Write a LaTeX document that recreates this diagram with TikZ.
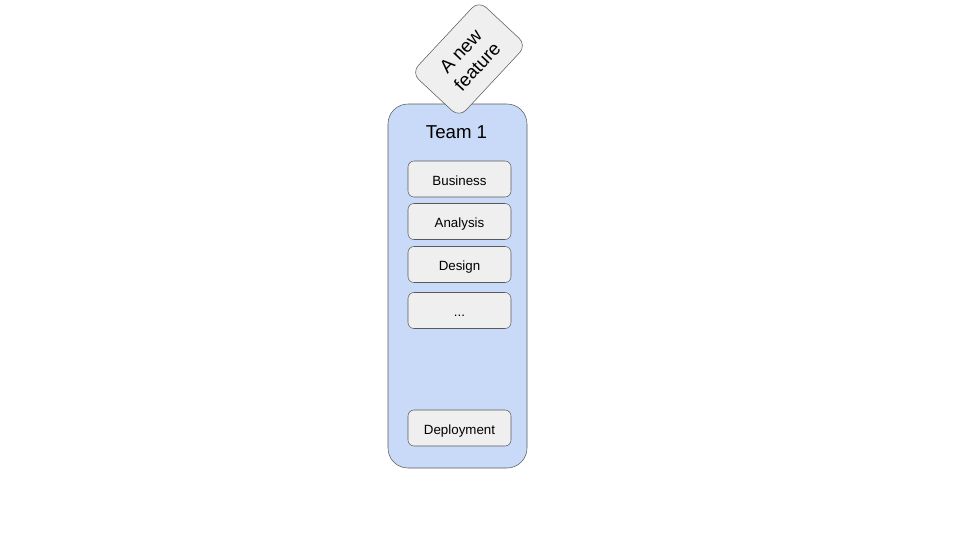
\documentclass[tikz,border=0pt]{standalone}
\usepackage{fontspec}
\setmainfont{Liberation Sans}
\definecolor{teamblue}{HTML}{C9DAF8}
\definecolor{boxgrey}{HTML}{EFEFEF}
\definecolor{linegrey}{HTML}{595959}

\begin{document}
\begin{tikzpicture}[x=0.75pt,y=-0.75pt]
    \tikzset{%
      team/.style={draw=linegrey, fill=teamblue, rounded corners=15pt,
        minimum width=104.25pt, minimum height=273pt, inner sep=0pt},
      stage/.style={draw=linegrey, fill=boxgrey, rounded corners=4.5pt,
        minimum width=77.25pt, minimum height=27pt, inner sep=0pt,
        text height=9pt, text depth=0pt, font=\fontsize{10pt}{12pt}\selectfont},
      card/.style={draw=linegrey, fill=boxgrey, rounded corners=7.5pt,
        minimum width=74pt, minimum height=49pt, inner sep=0pt,
        align=center, font=\fontsize{14pt}{17pt}\selectfont},
    }
    \useasboundingbox (0,0) rectangle (960,540);
    % the team
    \node[team] (T) at (457.5,286) {};
    \node[font=\fontsize{14pt}{16pt}\selectfont] (T1) at (456.5,132) {Team 1};
    % stages of the work
    \node[stage] (S1) at (459.5,179) {Business};
    \node[stage] (S2) at (459.5,221.5) {Analysis};
    \node[stage] (S3) at (459.5,264.5) {Design};
    \node[stage] (S4) at (459.5,310.5) {...};
    \node[stage] (S5) at (459.5,428) {Deployment};
    % the incoming feature
    \node[card, rotate=47] (F) at (469,59) {A new\\feature};
  \end{tikzpicture}
\end{document}
